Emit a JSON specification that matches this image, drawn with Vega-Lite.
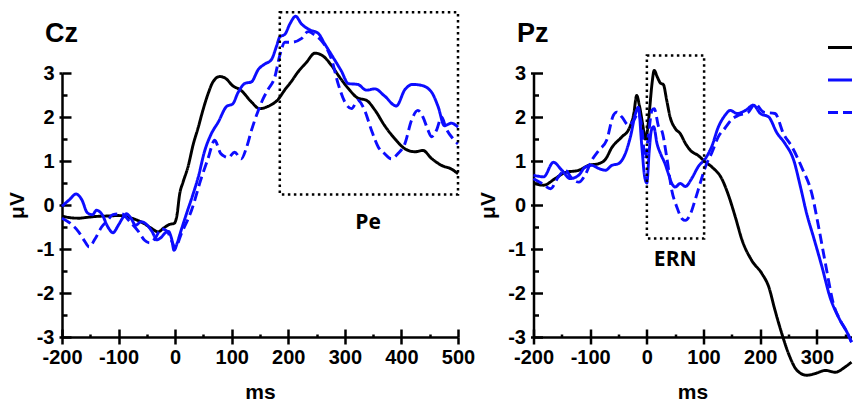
{
  "$schema": "https://vega.github.io/schema/vega-lite/v6.json",
  "padding": {"left": 6, "top": 10, "right": 0, "bottom": 0},
  "background": "white",
  "spacing": 2.5,
  "config": {
    "view": {"stroke": null},
    "axis": {"domainColor": "black", "domainWidth": 2.5, "tickColor": "black", "tickWidth": 2.5, "labelColor": "black", "labelFont": "Liberation Sans", "labelFontWeight": "bold", "labelFontSize": 20, "titleColor": "black", "titleFont": "Liberation Sans", "titleFontWeight": "bold", "titleFontSize": 21, "grid": false, "labelOverlap": false, "labelFlush": false}
  },
  "resolve": {"scale": {"x": "independent", "y": "independent", "color": "independent", "strokeDash": "independent"}, "legend": {"color": "independent", "strokeDash": "independent"}},
  "hconcat": [
    {
      "width": 396, "height": 264,
      "resolve": {"axis": {"x": "independent", "y": "independent"}},
      "layer": [
        {
          "data": {"values": [
            {"ms":-200,"uV":-0.25,"condition":"A"},{"ms":-185,"uV":-0.29,"condition":"A"},{"ms":-170,"uV":-0.30,"condition":"A"},{"ms":-155,"uV":-0.28,"condition":"A"},{"ms":-140,"uV":-0.26,"condition":"A"},{"ms":-120,"uV":-0.25,"condition":"A"},{"ms":-100,"uV":-0.24,"condition":"A"},{"ms":-85,"uV":-0.27,"condition":"A"},{"ms":-70,"uV":-0.33,"condition":"A"},{"ms":-55,"uV":-0.42,"condition":"A"},{"ms":-42,"uV":-0.53,"condition":"A"},{"ms":-30,"uV":-0.61,"condition":"A"},{"ms":-20,"uV":-0.52,"condition":"A"},{"ms":-10,"uV":-0.44,"condition":"A"},{"ms":-2,"uV":-0.42,"condition":"A"},{"ms":3,"uV":-0.25,"condition":"A"},{"ms":8,"uV":0.25,"condition":"A"},{"ms":14,"uV":0.52,"condition":"A"},{"ms":23,"uV":0.88,"condition":"A"},{"ms":32,"uV":1.38,"condition":"A"},{"ms":41,"uV":1.77,"condition":"A"},{"ms":49,"uV":2.15,"condition":"A"},{"ms":58,"uV":2.52,"condition":"A"},{"ms":67,"uV":2.80,"condition":"A"},{"ms":79,"uV":2.92,"condition":"A"},{"ms":91,"uV":2.86,"condition":"A"},{"ms":100,"uV":2.73,"condition":"A"},{"ms":117,"uV":2.60,"condition":"A"},{"ms":135,"uV":2.34,"condition":"A"},{"ms":149,"uV":2.19,"condition":"A"},{"ms":164,"uV":2.24,"condition":"A"},{"ms":182,"uV":2.40,"condition":"A"},{"ms":194,"uV":2.62,"condition":"A"},{"ms":205,"uV":2.80,"condition":"A"},{"ms":217,"uV":3.02,"condition":"A"},{"ms":232,"uV":3.24,"condition":"A"},{"ms":247,"uV":3.45,"condition":"A"},{"ms":261,"uV":3.39,"condition":"A"},{"ms":277,"uV":3.16,"condition":"A"},{"ms":291,"uV":2.90,"condition":"A"},{"ms":306,"uV":2.65,"condition":"A"},{"ms":323,"uV":2.43,"condition":"A"},{"ms":338,"uV":2.38,"condition":"A"},{"ms":353,"uV":2.16,"condition":"A"},{"ms":370,"uV":1.81,"condition":"A"},{"ms":388,"uV":1.51,"condition":"A"},{"ms":406,"uV":1.28,"condition":"A"},{"ms":424,"uV":1.21,"condition":"A"},{"ms":438,"uV":1.24,"condition":"A"},{"ms":453,"uV":1.06,"condition":"A"},{"ms":471,"uV":0.90,"condition":"A"},{"ms":488,"uV":0.82,"condition":"A"},{"ms":500,"uV":0.71,"condition":"A"},
            {"ms":-200,"uV":-0.03,"condition":"B"},{"ms":-187,"uV":0.12,"condition":"B"},{"ms":-175,"uV":0.25,"condition":"B"},{"ms":-165,"uV":0.12,"condition":"B"},{"ms":-155,"uV":-0.18,"condition":"B"},{"ms":-146,"uV":-0.22,"condition":"B"},{"ms":-139,"uV":-0.12,"condition":"B"},{"ms":-130,"uV":-0.2,"condition":"B"},{"ms":-118,"uV":-0.52,"condition":"B"},{"ms":-110,"uV":-0.63,"condition":"B"},{"ms":-100,"uV":-0.45,"condition":"B"},{"ms":-92,"uV":-0.28,"condition":"B"},{"ms":-86,"uV":-0.2,"condition":"B"},{"ms":-78,"uV":-0.3,"condition":"B"},{"ms":-70,"uV":-0.46,"condition":"B"},{"ms":-60,"uV":-0.38,"condition":"B"},{"ms":-50,"uV":-0.45,"condition":"B"},{"ms":-40,"uV":-0.62,"condition":"B"},{"ms":-33,"uV":-0.79,"condition":"B"},{"ms":-25,"uV":-0.74,"condition":"B"},{"ms":-18,"uV":-0.64,"condition":"B"},{"ms":-12,"uV":-0.6,"condition":"B"},{"ms":-6,"uV":-0.78,"condition":"B"},{"ms":-2,"uV":-1.03,"condition":"B"},{"ms":4,"uV":-0.85,"condition":"B"},{"ms":10,"uV":-0.6,"condition":"B"},{"ms":20,"uV":-0.2,"condition":"B"},{"ms":32,"uV":0.26,"condition":"B"},{"ms":41,"uV":0.64,"condition":"B"},{"ms":52,"uV":1.22,"condition":"B"},{"ms":64,"uV":1.62,"condition":"B"},{"ms":76,"uV":1.88,"condition":"B"},{"ms":91,"uV":2.24,"condition":"B"},{"ms":102,"uV":2.3,"condition":"B"},{"ms":111,"uV":2.55,"condition":"B"},{"ms":123,"uV":2.76,"condition":"B"},{"ms":135,"uV":2.80,"condition":"B"},{"ms":147,"uV":3.08,"condition":"B"},{"ms":158,"uV":3.2,"condition":"B"},{"ms":170,"uV":3.3,"condition":"B"},{"ms":179,"uV":3.6,"condition":"B"},{"ms":185,"uV":3.82,"condition":"B"},{"ms":194,"uV":3.88,"condition":"B"},{"ms":203,"uV":4.12,"condition":"B"},{"ms":213,"uV":4.29,"condition":"B"},{"ms":223,"uV":4.12,"condition":"B"},{"ms":238,"uV":3.98,"condition":"B"},{"ms":253,"uV":3.9,"condition":"B"},{"ms":264,"uV":3.67,"condition":"B"},{"ms":279,"uV":3.36,"condition":"B"},{"ms":294,"uV":3.04,"condition":"B"},{"ms":306,"uV":2.76,"condition":"B"},{"ms":323,"uV":2.74,"condition":"B"},{"ms":338,"uV":2.61,"condition":"B"},{"ms":353,"uV":2.64,"condition":"B"},{"ms":370,"uV":2.48,"condition":"B"},{"ms":391,"uV":2.25,"condition":"B"},{"ms":406,"uV":2.62,"condition":"B"},{"ms":420,"uV":2.74,"condition":"B"},{"ms":435,"uV":2.72,"condition":"B"},{"ms":453,"uV":2.57,"condition":"B"},{"ms":465,"uV":2.23,"condition":"B"},{"ms":476,"uV":1.80,"condition":"B"},{"ms":488,"uV":1.86,"condition":"B"},{"ms":500,"uV":1.77,"condition":"B"},
            {"ms":-200,"uV":-0.3,"condition":"C"},{"ms":-185,"uV":-0.42,"condition":"C"},{"ms":-170,"uV":-0.62,"condition":"C"},{"ms":-160,"uV":-0.82,"condition":"C"},{"ms":-152,"uV":-0.95,"condition":"C"},{"ms":-142,"uV":-0.78,"condition":"C"},{"ms":-130,"uV":-0.5,"condition":"C"},{"ms":-120,"uV":-0.36,"condition":"C"},{"ms":-110,"uV":-0.22,"condition":"C"},{"ms":-95,"uV":-0.2,"condition":"C"},{"ms":-80,"uV":-0.38,"condition":"C"},{"ms":-65,"uV":-0.6,"condition":"C"},{"ms":-54,"uV":-0.8,"condition":"C"},{"ms":-45,"uV":-0.86,"condition":"C"},{"ms":-36,"uV":-0.77,"condition":"C"},{"ms":-24,"uV":-0.54,"condition":"C"},{"ms":-14,"uV":-0.6,"condition":"C"},{"ms":-5,"uV":-0.85,"condition":"C"},{"ms":0,"uV":-0.97,"condition":"C"},{"ms":11,"uV":-0.65,"condition":"C"},{"ms":29,"uV":-0.12,"condition":"C"},{"ms":46,"uV":0.6,"condition":"C"},{"ms":58,"uV":1.05,"condition":"C"},{"ms":70,"uV":1.47,"condition":"C"},{"ms":80,"uV":1.18,"condition":"C"},{"ms":88,"uV":1.1,"condition":"C"},{"ms":94,"uV":1.08,"condition":"C"},{"ms":105,"uV":1.2,"condition":"C"},{"ms":117,"uV":1.05,"condition":"C"},{"ms":126,"uV":1.3,"condition":"C"},{"ms":135,"uV":1.70,"condition":"C"},{"ms":147,"uV":2.15,"condition":"C"},{"ms":155,"uV":2.4,"condition":"C"},{"ms":164,"uV":2.62,"condition":"C"},{"ms":176,"uV":2.9,"condition":"C"},{"ms":185,"uV":3.4,"condition":"C"},{"ms":194,"uV":3.7,"condition":"C"},{"ms":206,"uV":3.7,"condition":"C"},{"ms":223,"uV":3.78,"condition":"C"},{"ms":235,"uV":3.94,"condition":"C"},{"ms":247,"uV":3.86,"condition":"C"},{"ms":258,"uV":3.74,"condition":"C"},{"ms":277,"uV":3.29,"condition":"C"},{"ms":288,"uV":2.76,"condition":"C"},{"ms":300,"uV":2.34,"condition":"C"},{"ms":312,"uV":2.19,"condition":"C"},{"ms":323,"uV":2.38,"condition":"C"},{"ms":335,"uV":2.15,"condition":"C"},{"ms":347,"uV":1.70,"condition":"C"},{"ms":359,"uV":1.32,"condition":"C"},{"ms":370,"uV":1.17,"condition":"C"},{"ms":382,"uV":1.05,"condition":"C"},{"ms":394,"uV":1.17,"condition":"C"},{"ms":406,"uV":1.39,"condition":"C"},{"ms":418,"uV":1.93,"condition":"C"},{"ms":429,"uV":2.15,"condition":"C"},{"ms":438,"uV":2.0,"condition":"C"},{"ms":447,"uV":1.70,"condition":"C"},{"ms":453,"uV":1.55,"condition":"C"},{"ms":462,"uV":1.70,"condition":"C"},{"ms":471,"uV":2.0,"condition":"C"},{"ms":479,"uV":1.74,"condition":"C"},{"ms":491,"uV":1.51,"condition":"C"},{"ms":500,"uV":1.39,"condition":"C"}
          ]},
          "mark": {"type": "line", "strokeWidth": 2.9, "interpolate": "monotone"},
          "encoding": {
            "x": {"field": "ms", "type": "quantitative", "scale": {"domain": [-200, 500], "nice": false, "zero": false},
              "axis": {"orient": "bottom", "values": [-200,-150,-100,-50,0,50,100,150,200,250,300,350,400,450,500], "labelExpr": "datum.value % 100 === 0 ? '' + datum.value : ''", "tickSize": {"condition": {"test": "datum.value % 100 === 0", "value": 7}, "value": 0}, "labelPadding": 3, "title": "ms", "titlePadding": 14}},
            "y": {"field": "uV", "type": "quantitative", "scale": {"domain": [-3, 3], "nice": false, "zero": false},
              "axis": {"orient": "left", "values": [-3,-2.5,-2,-1.5,-1,-0.5,0,0.5,1,1.5,2,2.5,3], "labelExpr": "datum.value % 1 === 0 ? '' + datum.value : ''", "tickSize": {"condition": {"test": "datum.value % 1 === 0", "value": 3}, "value": 0}, "labelPadding": 5, "title": "μV", "titlePadding": 9}},
            "color": {"field": "condition", "type": "nominal", "scale": {"domain": ["A", "B", "C"], "range": ["#000000", "#0d0dff", "#0d0dff"]}, "legend": null},
            "strokeDash": {"field": "condition", "type": "nominal", "scale": {"domain": ["A", "B", "C"], "range": [[1, 0], [1, 0], [10, 5]]}, "legend": null}
          }
        },
        {
          "data": {"values": [{"x1": 185, "x2": 500, "y1": 0.24, "y2": 4.38}]},
          "mark": {"type": "rect", "filled": false, "stroke": "black", "strokeWidth": 2.5, "strokeDash": [2.5, 3.5]},
          "encoding": {
            "x": {"field": "x1", "type": "quantitative", "scale": {"domain": [-200, 500], "nice": false, "zero": false},
              "axis": {"orient": "bottom", "values": [-200,-150,-100,-50,0,50,100,150,200,250,300,350,400,450,500], "labels": false, "domain": false, "title": null, "tickSize": {"condition": {"test": "datum.value % 100 === 0", "value": -8}, "value": -3}}},
            "x2": {"field": "x2"},
            "y": {"field": "y1", "type": "quantitative", "scale": {"domain": [-3, 3], "nice": false, "zero": false},
              "axis": {"orient": "left", "values": [-3,-2.5,-2,-1.5,-1,-0.5,0,0.5,1,1.5,2,2.5,3], "labels": false, "domain": false, "title": null, "tickSize": {"condition": {"test": "datum.value % 1 === 0", "value": -9}, "value": -5}}},
            "y2": {"field": "y2"}
          }
        },
        {
          "data": {"values": [{"ms": -230, "uV": 3.7, "text": "Cz"}]},
          "mark": {"type": "text", "align": "left", "baseline": "alphabetic", "font": "Liberation Sans", "fontWeight": "bold", "fontSize": 27, "color": "black"},
          "encoding": {
            "x": {"field": "ms", "type": "quantitative", "scale": {"domain": [-200, 500], "nice": false, "zero": false}, "axis": null},
            "y": {"field": "uV", "type": "quantitative", "scale": {"domain": [-3, 3], "nice": false, "zero": false}, "axis": null},
            "text": {"field": "text"}
          }
        },
        {
          "data": {"values": [{"ms": 341, "uV": -0.55, "text": "Pe"}]},
          "mark": {"type": "text", "align": "center", "baseline": "alphabetic", "font": "Open Sans", "fontWeight": "bold", "fontSize": 21, "color": "black"},
          "encoding": {
            "x": {"field": "ms", "type": "quantitative", "scale": {"domain": [-200, 500], "nice": false, "zero": false}, "axis": null},
            "y": {"field": "uV", "type": "quantitative", "scale": {"domain": [-3, 3], "nice": false, "zero": false}, "axis": null},
            "text": {"field": "text"}
          }
        }
      ]
    },
    {
      "width": 318, "height": 264,
      "resolve": {"axis": {"x": "independent", "y": "independent"}},
      "layer": [
        {
          "data": {"values": [
            {"ms":-200,"uV":0.49,"condition":"A"},{"ms":-182,"uV":0.45,"condition":"A"},{"ms":-162,"uV":0.6,"condition":"A"},{"ms":-144,"uV":0.74,"condition":"A"},{"ms":-120,"uV":0.79,"condition":"A"},{"ms":-103,"uV":0.9,"condition":"A"},{"ms":-85,"uV":0.94,"condition":"A"},{"ms":-73,"uV":1.04,"condition":"A"},{"ms":-62,"uV":1.3,"condition":"A"},{"ms":-44,"uV":1.55,"condition":"A"},{"ms":-32,"uV":1.72,"condition":"A"},{"ms":-23,"uV":2.08,"condition":"A"},{"ms":-18,"uV":2.49,"condition":"A"},{"ms":-13,"uV":2.25,"condition":"A"},{"ms":-7,"uV":1.8,"condition":"A"},{"ms":-3,"uV":1.5,"condition":"A"},{"ms":1,"uV":1.7,"condition":"A"},{"ms":5,"uV":2.2,"condition":"A"},{"ms":9,"uV":2.75,"condition":"A"},{"ms":13,"uV":3.06,"condition":"A"},{"ms":18,"uV":2.92,"condition":"A"},{"ms":24,"uV":2.77,"condition":"A"},{"ms":29,"uV":2.74,"condition":"A"},{"ms":35,"uV":2.38,"condition":"A"},{"ms":41,"uV":2.0,"condition":"A"},{"ms":50,"uV":1.74,"condition":"A"},{"ms":59,"uV":1.62,"condition":"A"},{"ms":68,"uV":1.40,"condition":"A"},{"ms":77,"uV":1.24,"condition":"A"},{"ms":91,"uV":1.12,"condition":"A"},{"ms":103,"uV":0.98,"condition":"A"},{"ms":115,"uV":0.86,"condition":"A"},{"ms":132,"uV":0.6,"condition":"A"},{"ms":144,"uV":0.22,"condition":"A"},{"ms":156,"uV":-0.27,"condition":"A"},{"ms":168,"uV":-0.8,"condition":"A"},{"ms":185,"uV":-1.26,"condition":"A"},{"ms":203,"uV":-1.56,"condition":"A"},{"ms":215,"uV":-1.86,"condition":"A"},{"ms":226,"uV":-2.39,"condition":"A"},{"ms":238,"uV":-2.92,"condition":"A"},{"ms":250,"uV":-3.38,"condition":"A"},{"ms":265,"uV":-3.76,"condition":"A"},{"ms":282,"uV":-3.87,"condition":"A"},{"ms":297,"uV":-3.83,"condition":"A"},{"ms":315,"uV":-3.76,"condition":"A"},{"ms":332,"uV":-3.8,"condition":"A"},{"ms":350,"uV":-3.68,"condition":"A"},{"ms":361,"uV":-3.57,"condition":"A"},
            {"ms":-200,"uV":0.68,"condition":"B"},{"ms":-182,"uV":0.64,"condition":"B"},{"ms":-165,"uV":0.97,"condition":"B"},{"ms":-150,"uV":0.79,"condition":"B"},{"ms":-135,"uV":0.6,"condition":"B"},{"ms":-120,"uV":0.68,"condition":"B"},{"ms":-109,"uV":0.86,"condition":"B"},{"ms":-97,"uV":0.9,"condition":"B"},{"ms":-85,"uV":0.83,"condition":"B"},{"ms":-73,"uV":0.79,"condition":"B"},{"ms":-62,"uV":0.9,"condition":"B"},{"ms":-50,"uV":0.94,"condition":"B"},{"ms":-38,"uV":1.17,"condition":"B"},{"ms":-29,"uV":1.55,"condition":"B"},{"ms":-20,"uV":2.08,"condition":"B"},{"ms":-15,"uV":2.22,"condition":"B"},{"ms":-9,"uV":1.35,"condition":"B"},{"ms":-4,"uV":0.65,"condition":"B"},{"ms":0,"uV":0.5,"condition":"B"},{"ms":4,"uV":1.2,"condition":"B"},{"ms":8,"uV":1.7,"condition":"B"},{"ms":12,"uV":1.78,"condition":"B"},{"ms":18,"uV":1.39,"condition":"B"},{"ms":24,"uV":1.17,"condition":"B"},{"ms":32,"uV":0.94,"condition":"B"},{"ms":38,"uV":0.71,"condition":"B"},{"ms":44,"uV":0.49,"condition":"B"},{"ms":50,"uV":0.41,"condition":"B"},{"ms":59,"uV":0.49,"condition":"B"},{"ms":68,"uV":0.42,"condition":"B"},{"ms":79,"uV":0.6,"condition":"B"},{"ms":91,"uV":0.88,"condition":"B"},{"ms":103,"uV":1.05,"condition":"B"},{"ms":115,"uV":1.35,"condition":"B"},{"ms":126,"uV":1.77,"condition":"B"},{"ms":138,"uV":2.04,"condition":"B"},{"ms":147,"uV":2.15,"condition":"B"},{"ms":159,"uV":2.08,"condition":"B"},{"ms":174,"uV":2.15,"condition":"B"},{"ms":188,"uV":2.27,"condition":"B"},{"ms":200,"uV":2.08,"condition":"B"},{"ms":215,"uV":2.0,"condition":"B"},{"ms":229,"uV":1.65,"condition":"B"},{"ms":244,"uV":1.39,"condition":"B"},{"ms":259,"uV":1.02,"condition":"B"},{"ms":271,"uV":0.41,"condition":"B"},{"ms":282,"uV":-0.2,"condition":"B"},{"ms":294,"uV":-0.73,"condition":"B"},{"ms":309,"uV":-1.41,"condition":"B"},{"ms":323,"uV":-2.09,"condition":"B"},{"ms":338,"uV":-2.55,"condition":"B"},{"ms":353,"uV":-2.89,"condition":"B"},{"ms":361,"uV":-3.12,"condition":"B"},
            {"ms":-200,"uV":0.6,"condition":"C"},{"ms":-185,"uV":0.49,"condition":"C"},{"ms":-170,"uV":0.37,"condition":"C"},{"ms":-156,"uV":0.64,"condition":"C"},{"ms":-144,"uV":0.79,"condition":"C"},{"ms":-132,"uV":0.6,"condition":"C"},{"ms":-120,"uV":0.52,"condition":"C"},{"ms":-109,"uV":0.68,"condition":"C"},{"ms":-97,"uV":1.02,"condition":"C"},{"ms":-85,"uV":1.24,"condition":"C"},{"ms":-71,"uV":1.47,"condition":"C"},{"ms":-59,"uV":2.04,"condition":"C"},{"ms":-53,"uV":2.11,"condition":"C"},{"ms":-44,"uV":2.0,"condition":"C"},{"ms":-32,"uV":1.81,"condition":"C"},{"ms":-23,"uV":1.93,"condition":"C"},{"ms":-15,"uV":2.08,"condition":"C"},{"ms":-9,"uV":1.77,"condition":"C"},{"ms":-3,"uV":1.05,"condition":"C"},{"ms":3,"uV":1.62,"condition":"C"},{"ms":9,"uV":2.15,"condition":"C"},{"ms":13,"uV":2.19,"condition":"C"},{"ms":21,"uV":1.77,"condition":"C"},{"ms":26,"uV":1.7,"condition":"C"},{"ms":35,"uV":1.09,"condition":"C"},{"ms":44,"uV":0.33,"condition":"C"},{"ms":53,"uV":-0.05,"condition":"C"},{"ms":62,"uV":-0.31,"condition":"C"},{"ms":68,"uV":-0.35,"condition":"C"},{"ms":77,"uV":-0.2,"condition":"C"},{"ms":85,"uV":0.11,"condition":"C"},{"ms":94,"uV":0.49,"condition":"C"},{"ms":103,"uV":0.86,"condition":"C"},{"ms":115,"uV":1.2,"condition":"C"},{"ms":126,"uV":1.55,"condition":"C"},{"ms":138,"uV":1.75,"condition":"C"},{"ms":150,"uV":1.95,"condition":"C"},{"ms":162,"uV":2.04,"condition":"C"},{"ms":179,"uV":2.11,"condition":"C"},{"ms":191,"uV":2.30,"condition":"C"},{"ms":206,"uV":2.11,"condition":"C"},{"ms":226,"uV":2.08,"condition":"C"},{"ms":241,"uV":1.62,"condition":"C"},{"ms":256,"uV":1.32,"condition":"C"},{"ms":273,"uV":0.86,"condition":"C"},{"ms":291,"uV":0.26,"condition":"C"},{"ms":303,"uV":-0.5,"condition":"C"},{"ms":315,"uV":-1.33,"condition":"C"},{"ms":329,"uV":-2.24,"condition":"C"},{"ms":341,"uV":-2.62,"condition":"C"},{"ms":353,"uV":-2.89,"condition":"C"},{"ms":361,"uV":-3.11,"condition":"C"}
          ]},
          "mark": {"type": "line", "strokeWidth": 2.9, "interpolate": "monotone"},
          "encoding": {
            "x": {"field": "ms", "type": "quantitative", "scale": {"domain": [-200, 361], "nice": false, "zero": false},
              "axis": {"orient": "bottom", "values": [-200,-150,-100,-50,0,50,100,150,200,250,300,350], "labelExpr": "datum.value % 100 === 0 ? '' + datum.value : ''", "tickSize": {"condition": {"test": "datum.value % 100 === 0", "value": 7}, "value": 0}, "labelPadding": 3, "title": "ms", "titlePadding": 14}},
            "y": {"field": "uV", "type": "quantitative", "scale": {"domain": [-3, 3], "nice": false, "zero": false},
              "axis": {"orient": "left", "values": [-3,-2.5,-2,-1.5,-1,-0.5,0,0.5,1,1.5,2,2.5,3], "labelExpr": "datum.value % 1 === 0 ? '' + datum.value : ''", "tickSize": {"condition": {"test": "datum.value % 1 === 0", "value": 3}, "value": 0}, "labelPadding": 5, "title": "μV", "titlePadding": 9}},
            "color": {"field": "condition", "type": "nominal", "scale": {"domain": ["A", "B", "C"], "range": ["#000000", "#0d0dff", "#0d0dff"]},
              "legend": {"orient": "none", "legendX": 293, "legendY": -39, "title": null, "symbolType": "stroke", "symbolSize": 576, "symbolStrokeWidth": 2.8, "labelExpr": "''", "labelFontSize": 10, "rowPadding": 12.5, "padding": 0, "labelOffset": 0, "symbolOffset": 0, "offset": 0}},
            "strokeDash": {"field": "condition", "type": "nominal", "scale": {"domain": ["A", "B", "C"], "range": [[1, 0], [1, 0], [10, 5]]},
              "legend": {"orient": "none", "legendX": 293, "legendY": -39, "title": null, "symbolType": "stroke", "symbolSize": 576, "symbolStrokeWidth": 2.8, "labelExpr": "''", "labelFontSize": 10, "rowPadding": 12.5, "padding": 0, "labelOffset": 0, "symbolOffset": 0, "offset": 0}}
          }
        },
        {
          "data": {"values": [{"x1": 0, "x2": 101, "y1": -0.76, "y2": 3.4}]},
          "mark": {"type": "rect", "filled": false, "stroke": "black", "strokeWidth": 2.5, "strokeDash": [2.5, 3.5]},
          "encoding": {
            "x": {"field": "x1", "type": "quantitative", "scale": {"domain": [-200, 361], "nice": false, "zero": false},
              "axis": {"orient": "bottom", "values": [-200,-150,-100,-50,0,50,100,150,200,250,300,350], "labels": false, "domain": false, "title": null, "tickSize": {"condition": {"test": "datum.value % 100 === 0", "value": -8}, "value": -3}}},
            "x2": {"field": "x2"},
            "y": {"field": "y1", "type": "quantitative", "scale": {"domain": [-3, 3], "nice": false, "zero": false},
              "axis": {"orient": "left", "values": [-3,-2.5,-2,-1.5,-1,-0.5,0,0.5,1,1.5,2,2.5,3], "labels": false, "domain": false, "title": null, "tickSize": {"condition": {"test": "datum.value % 1 === 0", "value": -9}, "value": -5}}},
            "y2": {"field": "y2"}
          }
        },
        {
          "data": {"values": [{"ms": -229, "uV": 3.7, "text": "Pz"}]},
          "mark": {"type": "text", "align": "left", "baseline": "alphabetic", "font": "Liberation Sans", "fontWeight": "bold", "fontSize": 27, "color": "black"},
          "encoding": {
            "x": {"field": "ms", "type": "quantitative", "scale": {"domain": [-200, 361], "nice": false, "zero": false}, "axis": null},
            "y": {"field": "uV", "type": "quantitative", "scale": {"domain": [-3, 3], "nice": false, "zero": false}, "axis": null},
            "text": {"field": "text"}
          }
        },
        {
          "data": {"values": [{"ms": 50, "uV": -1.39, "text": "ERN"}]},
          "mark": {"type": "text", "align": "center", "baseline": "alphabetic", "font": "Open Sans", "fontWeight": "bold", "fontSize": 21, "color": "black"},
          "encoding": {
            "x": {"field": "ms", "type": "quantitative", "scale": {"domain": [-200, 361], "nice": false, "zero": false}, "axis": null},
            "y": {"field": "uV", "type": "quantitative", "scale": {"domain": [-3, 3], "nice": false, "zero": false}, "axis": null},
            "text": {"field": "text"}
          }
        }
      ]
    }
  ]
}
